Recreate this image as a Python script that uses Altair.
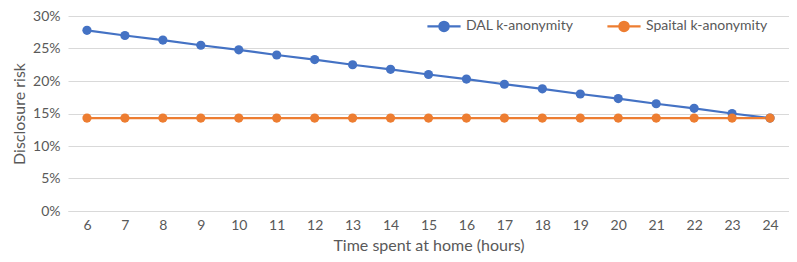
import altair as alt
import pandas as pd

hours = [6, 7, 8, 9, 10, 11, 12, 13, 14, 15, 16, 17, 18, 19, 20, 21, 22, 23, 24]
dal = [0.278, 0.270, 0.263, 0.255, 0.248, 0.240, 0.233, 0.225, 0.218, 0.210,
       0.203, 0.195, 0.188, 0.180, 0.173, 0.165, 0.158, 0.150, 0.143]
spatial = [0.143, 0.143, 0.143, 0.143, 0.143, 0.143, 0.143, 0.143, 0.143, 0.143,
           0.143, 0.143, 0.143, 0.143, 0.143, 0.143, 0.143, 0.143, 0.143]
series = ["DAL k-anonymity", "Spaital k-anonymity"]
colors = ["#4472C4", "#ED7D31"]
y_ticks = [0, 0.05, 0.10, 0.15, 0.20, 0.25, 0.30]

rows = []
for h, v in zip(hours, dal):
    rows.append({"hour": h, "risk": v, "series": series[0]})
for h, v in zip(hours, spatial):
    rows.append({"hour": h, "risk": v, "series": series[1]})
df = pd.DataFrame(rows)

FONT = "Lato"
GREY = "#595959"
legend_path = "M-1,0L1,0M-0.28,0A0.28,0.28,0,1,1,0.28,0A0.28,0.28,0,1,1,-0.28,0Z"

base = alt.Chart(df).encode(
    x=alt.X("hour:O", scale=alt.Scale(type="point", padding=0.5),
            axis=alt.Axis(title="Time spent at home (hours)", labelAngle=0, ticks=False,
                          domain=True, domainColor="#d9d9d9", grid=False,
                          labelPadding=7, titlePadding=5)),
    y=alt.Y("risk:Q", scale=alt.Scale(domain=[0, 0.3]),
            axis=alt.Axis(title="Disclosure risk", format=".0%", values=y_ticks, ticks=False,
                          domain=False, grid=True, gridColor="#d9d9d9", labelPadding=8,
                          titlePadding=5)),
    color=alt.Color("series:N", scale=alt.Scale(domain=series, range=colors),
                    legend=alt.Legend(title=None, orient="none", legendX=358, legendY=-8,
                                      direction="horizontal", symbolType=legend_path,
                                      symbolSize=1100, symbolStrokeWidth=2.25,
                                      labelFontSize=14, labelColor=GREY, labelFont=FONT,
                                      labelOffset=4, columnPadding=28)),
)

line = base.mark_line(strokeWidth=2.25)
pts = base.mark_point(filled=True, size=85, opacity=1)

chart = alt.layer(line, pts).properties(
    width=721, height=195,
    autosize=alt.AutoSizeParams(type="none"),
    padding={"left": 60, "top": 8, "right": 0, "bottom": 43},
).configure_view(stroke=None).configure_axis(
    labelFont=FONT, titleFont=FONT, labelFontSize=14, titleFontSize=16,
    labelColor=GREY, titleColor=GREY, titleFontWeight="normal",
)

chart.save("out.html", embed_options={"renderer": "svg", "actions": False})
